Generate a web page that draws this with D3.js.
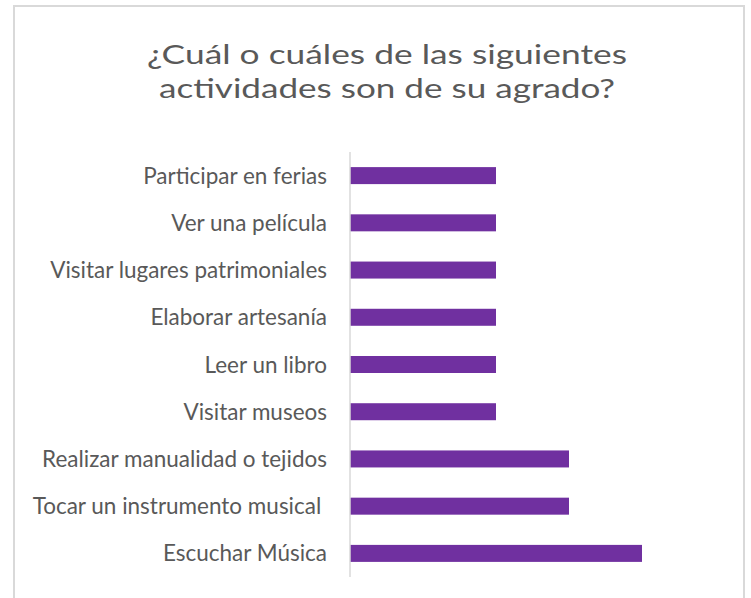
<!DOCTYPE html>
<html><head><meta charset="utf-8">
<script src="https://cdn.jsdelivr.net/npm/d3@7"></script>
<style>body{margin:0;background:#fff}svg{display:block}text{white-space:pre}</style>
</head><body><svg id="c" width="751" height="598"></svg>
<script>
const categories = ["Participar en ferias","Ver una película","Visitar lugares patrimoniales","Elaborar artesanía","Leer un libro","Visitar museos","Realizar manualidad o tejidos","Tocar un instrumento musical ","Escuchar Música"];
const values = [2,2,2,2,2,2,3,3,4];
const titleLines = ["¿Cuál o cuáles de las siguientes","actividades son de su agrado?"];

const svg = d3.select("#c");
const font = "Lato, 'Open Sans', sans-serif";
svg.append("rect").attr("x",14).attr("y",6).attr("width",730).attr("height",620)
  .attr("fill","#fff").attr("stroke","#d9d9d9").attr("stroke-width",2);

const y = d3.scaleBand().domain(categories).range([152,577]).paddingInner(0.64).paddingOuter(0.32);
const x = d3.scaleLinear().domain([0,4]).range([350,642]);

const titleWidths = [480, 456];
svg.selectAll("text.title").data(titleLines).enter().append("text").attr("class","title")
  .attr("x",387).attr("y",(d,i)=>64+i*34).attr("text-anchor","middle")
  .attr("font-family",font).attr("font-size",27.5).attr("fill","#595959")
  .attr("textLength",(d,i)=>titleWidths[i]).attr("lengthAdjust","spacingAndGlyphs")
  .text(d=>d);

svg.selectAll("rect.bar").data(values).enter().append("rect").attr("class","bar")
  .attr("x",x(0)).attr("y",(d,i)=>y(categories[i])).attr("height",y.bandwidth())
  .attr("width",d=>x(d)-x(0)).attr("fill","#7030A0");

const labels = svg.selectAll("text.lab").data(categories).enter().append("text").attr("class","lab")
  .attr("x",327).attr("y",d=>y(d)+y.bandwidth()/2).attr("dy","0.36em").attr("text-anchor","end")
  .attr("font-family",font).attr("font-size",18).attr("fill","#595959").text(d=>d);
const ref = labels.filter(d=>d==="Realizar manualidad o tejidos");
const w0 = ref.node().getComputedTextLength();
labels.attr("font-size", 18*285/w0);

svg.append("line").attr("x1",350).attr("x2",350).attr("y1",152).attr("y2",577)
  .attr("stroke","#d9d9d9").attr("stroke-width",1.5);
</script></body></html>
